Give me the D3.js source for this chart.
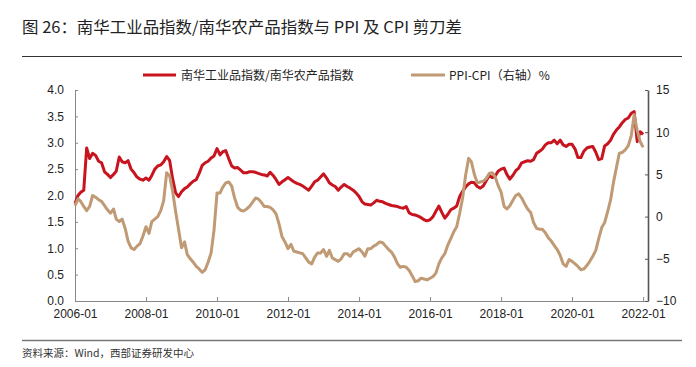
<!DOCTYPE html>
<html><head><meta charset="utf-8">
<script src="https://cdn.jsdelivr.net/npm/d3@7"></script>
<style>body{margin:0;background:#fff}svg{display:block}</style>
</head><body>
<svg id="c" width="696" height="367"></svg>
<script>
const title = "图 26：南华工业品指数/南华农产品指数与 PPI 及 CPI 剪刀差";
const source = "资料来源：Wind，西部证券研发中心";
const seriesNames = ["南华工业品指数/南华农产品指数", "PPI-CPI（右轴）%"];
const startMonth = "2006-01";
const xTickLabels = ["2006-01","2008-01","2010-01","2012-01","2014-01","2016-01","2018-01","2020-01","2022-01"];
const leftTicks = [0,0.5,1,1.5,2,2.5,3,3.5,4];
const rightTicks = [-10,-5,0,5,10,15];

// 南华工业品指数/南华农产品指数 (monthly, 2006-01 .. 2022-01)
const ratio = [
1.85,2.00,2.06,2.10,2.90,2.70,2.80,2.76,2.65,2.62,2.45,2.40,
2.34,2.40,2.46,2.73,2.64,2.62,2.66,2.50,2.43,2.35,2.31,2.29,
2.33,2.29,2.38,2.50,2.56,2.58,2.64,2.74,2.66,2.32,2.05,1.98,
2.07,2.13,2.16,2.22,2.27,2.30,2.42,2.57,2.62,2.65,2.71,2.75,
2.89,2.77,2.83,2.85,2.70,2.56,2.52,2.53,2.48,2.43,2.43,2.45,
2.45,2.44,2.42,2.40,2.39,2.37,2.44,2.38,2.30,2.21,2.26,2.30,
2.34,2.30,2.26,2.23,2.21,2.18,2.14,2.10,2.18,2.26,2.29,2.35,
2.41,2.33,2.24,2.20,2.17,2.10,2.16,2.21,2.17,2.14,2.10,2.05,
1.98,1.88,1.84,1.83,1.82,1.86,1.91,1.89,1.88,1.85,1.83,1.81,
1.80,1.79,1.77,1.76,1.79,1.67,1.64,1.63,1.61,1.58,1.54,1.52,
1.54,1.60,1.70,1.80,1.68,1.57,1.64,1.73,1.76,1.80,1.98,2.08,
2.16,2.22,2.25,2.24,2.17,2.14,2.18,2.28,2.38,2.34,2.37,2.46,
2.50,2.52,2.40,2.31,2.38,2.47,2.52,2.62,2.64,2.66,2.65,2.68,
2.80,2.84,2.88,2.96,3.00,3.00,3.05,2.98,3.05,2.96,2.93,2.97,
2.97,2.88,2.72,2.72,2.84,2.90,2.92,2.93,2.82,2.68,2.70,2.94,
2.98,3.05,3.16,3.24,3.30,3.38,3.44,3.47,3.56,3.59,3.02,3.21,
3.16
];
// PPI-CPI (%, right axis)
const ppiCpi = [
1.3,2.1,1.8,1.2,0.7,1.2,2.5,2.3,2.0,1.8,1.3,0.8,
0.4,0.9,-0.3,-0.6,-0.3,-1.4,-2.9,-3.7,-3.9,-3.5,-3.2,-2.3,
-1.2,-2.0,-0.6,-0.3,0.0,0.7,1.9,5.2,4.8,3.0,0.6,-1.5,
-3.7,-3.0,-4.5,-5.0,-5.4,-5.9,-6.2,-6.6,-6.3,-5.4,-4.3,-1.6,
2.8,2.8,3.5,4.0,4.1,3.6,2.2,1.1,0.75,0.65,0.9,1.2,
1.7,2.2,2.1,1.7,1.2,1.2,1.1,0.8,0.3,-0.9,-2.4,-3.0,
-3.8,-3.3,-4.1,-4.2,-4.3,-4.4,-4.9,-5.4,-5.6,-4.8,-4.3,-4.3,
-3.9,-4.7,-4.0,-4.9,-5.1,-5.3,-5.0,-4.4,-4.4,-4.7,-4.2,-4.0,
-3.8,-4.2,-4.7,-3.8,-3.8,-3.5,-3.3,-3.0,-3.1,-3.5,-3.9,-4.2,
-4.8,-5.6,-6.0,-5.9,-6.0,-6.4,-7.0,-7.7,-7.6,-7.3,-7.4,-7.5,
-7.3,-7.1,-6.7,-5.6,-4.9,-4.4,-3.4,-2.6,-1.8,-1.2,0.4,2.2,
4.9,6.9,6.5,5.0,4.0,4.1,4.2,4.5,5.1,5.2,4.7,3.7,
2.9,1.2,0.9,1.3,1.9,2.5,2.7,2.2,1.5,0.9,0.5,-0.7,
-1.4,-1.5,-1.5,-1.9,-2.5,-2.9,-3.4,-3.9,-4.6,-5.6,-5.9,-5.1,
-5.3,-5.6,-5.9,-6.3,-6.2,-5.8,-5.3,-4.7,-4.0,-2.6,-1.3,-0.7,
0.6,2.0,4.0,5.8,7.5,7.6,7.9,8.4,9.6,12.1,10.2,8.9,
8.2
];

const colors = ["#C8141E", "#BF9A74"];
const parse = d3.timeParse("%Y-%m");
const t0 = parse(startMonth);
const dates = ratio.map((_, i) => d3.timeMonth.offset(t0, i));

const svg = d3.select("#c");
const L = 75, R = 648, T = 90, B = 301;
const x = d3.scaleTime().domain([t0, new Date(2022, 1, 20)]).range([L, R]);
const yL = d3.scaleLinear().domain([0, 4]).range([B, T]);
const yR = d3.scaleLinear().domain([-10, 15]).range([B, T]);

const cjk = "'Noto Sans CJK SC','Liberation Sans',sans-serif";
const lat = "'Liberation Sans',Arial,sans-serif";

// title
svg.append("text").attr("x", 22).attr("y", 33).attr("font-family", cjk)
  .attr("font-size", 16).attr("fill", "#222").attr("textLength", 440)
  .attr("lengthAdjust", "spacingAndGlyphs").text(title);
svg.append("line").attr("x1", 22).attr("x2", 682).attr("y1", 56.5).attr("y2", 56.5)
  .attr("stroke", "#333").attr("stroke-width", 1.2);
svg.append("line").attr("x1", 22).attr("x2", 682).attr("y1", 340.5).attr("y2", 340.5)
  .attr("stroke", "#777").attr("stroke-width", 1.6);
svg.append("text").attr("x", 22).attr("y", 357).attr("font-family", cjk)
  .attr("font-size", 10.5).attr("fill", "#333").text(source);

// axes
const gx = svg.append("g").attr("transform", `translate(0,${B})`)
  .call(d3.axisBottom(x).tickValues(xTickLabels.map(parse)).tickSizeInner(-4).tickSizeOuter(0)
    .tickFormat(d3.timeFormat("%Y-%m")).tickPadding(8));
const gl = svg.append("g").attr("transform", `translate(${L},0)`)
  .call(d3.axisLeft(yL).tickValues(leftTicks).tickSizeInner(-3).tickSizeOuter(0)
    .tickFormat(d3.format(".1f")).tickPadding(11));
const gr = svg.append("g").attr("transform", `translate(${R},0)`)
  .call(d3.axisRight(yR).tickValues(rightTicks).tickSizeInner(-3).tickSizeOuter(0).tickPadding(8));
[gx, gl, gr].forEach(g => {
  g.selectAll("text").attr("font-family", lat).attr("font-size", 12).attr("fill", "#222");
  g.selectAll("line").attr("stroke", "#888");
  g.select(".domain").attr("stroke", "#888");
});
gr.select(".domain").attr("stroke", "#555").attr("stroke-width", 1.6);
gr.selectAll("line").attr("stroke", "#555");

// lines
const lineL = d3.line().x((d, i) => x(dates[i])).y(d => yL(d));
const lineR = d3.line().x((d, i) => x(dates[i])).y(d => yR(d));
svg.append("path").datum(ratio).attr("d", lineL).attr("fill", "none")
  .attr("stroke", colors[0]).attr("stroke-width", 3).attr("stroke-linejoin", "round");
svg.append("path").datum(ppiCpi).attr("d", lineR).attr("fill", "none")
  .attr("stroke", colors[1]).attr("stroke-width", 3).attr("stroke-linejoin", "round");

// legend
const leg = [{x1: 143, x2: 176, tx: 181}, {x1: 411, x2: 445, tx: 449}];
leg.forEach((l, i) => {
  svg.append("line").attr("x1", l.x1).attr("x2", l.x2).attr("y1", 75).attr("y2", 75)
    .attr("stroke", colors[i]).attr("stroke-width", 3);
  svg.append("text").attr("x", l.tx).attr("y", 79.5).attr("font-family", cjk)
    .attr("font-size", 12).attr("fill", "#222").text(seriesNames[i]);
});
</script>
</body></html>
